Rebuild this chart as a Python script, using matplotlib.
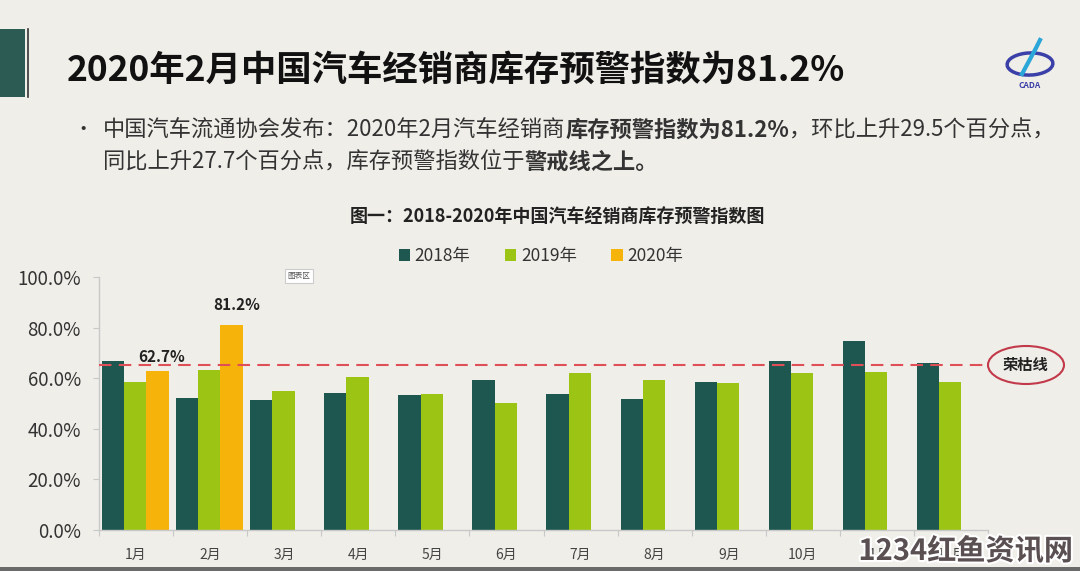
import matplotlib
matplotlib.use("Agg")
import matplotlib.pyplot as plt
from matplotlib.patches import Rectangle, Ellipse, Patch
from matplotlib.lines import Line2D
import matplotlib.patheffects as pe
import numpy as np

plt.rcParams['font.family'] = ['Noto Sans CJK SC', 'DejaVu Sans']

# ---------------- data ----------------
months = ["1月", "2月", "3月", "4月", "5月", "6月", "7月", "8月", "9月", "10月", "11月", "12月"]
v2018 = [66.8, 52.0, 51.5, 54.3, 53.5, 59.2, 53.6, 51.9, 58.6, 66.7, 74.7, 65.9]
v2019 = [58.6, 63.2, 54.9, 60.6, 53.9, 50.2, 62.2, 59.2, 58.2, 62.2, 62.5, 58.6]
v2020 = [62.7, 81.2]
series_names = ["2018年", "2019年", "2020年"]
threshold = 65.2
yticks = [0, 20, 40, 60, 80, 100]

title = "2020年2月中国汽车经销商库存预警指数为81.2%"
line1 = [("中国汽车流通协会发布：2020年2月汽车经销商", "normal"),
         ("库存预警指数为81.2%", "bold"),
         ("，环比上升29.5个百分点，", "normal")]
line2 = [("同比上升27.7个百分点，库存预警指数位于", "normal"),
         ("警戒线之上。", "bold")]
chart_title = "图一：2018-2020年中国汽车经销商库存预警指数图"
line_label = "荣枯线"

# ---------------- style ----------------
W, H = 1080, 571
BG = "#efeee9"
C18, C19, C20 = "#1d5750", "#9cc414", "#f6b30a"

fig = plt.figure(figsize=(W / 100, H / 100), dpi=100, facecolor=BG)


def fx(x):
    return x / W


def fy(y):
    return 1 - y / H


# header decorations
fig.patches.append(Rectangle((0, fy(97)), fx(25), (97 - 29) / H, transform=fig.transFigure,
                             facecolor="#2c5b53", edgecolor="none"))
fig.lines.append(Line2D([fx(28), fx(28)], [fy(29), fy(97)], transform=fig.transFigure,
                        color="#333333", lw=1.2))
fig.text(fx(67), fy(70), title, fontsize=25.5, fontweight="bold", color="#111111",
         va="center", ha="left")

# logo (simple approximation)
fig.patches.append(Ellipse((fx(1030), fy(64)), fx(46), 22 / H, angle=15, transform=fig.transFigure,
                           facecolor="none", edgecolor="#3b3fa8", lw=2.5))
fig.lines.append(Line2D([fx(1022), fx(1036), fx(1040)], [fy(74), fy(48), fy(40)],
                        transform=fig.transFigure, color="#2aa6d9", lw=3))
fig.text(fx(1030), fy(86), "CADA", fontsize=6, fontstyle="italic", fontweight="bold",
         color="#3b3fa8", ha="center", va="center")

# bullet text with mixed weights
fig.text(fx(73), fy(130), "•", fontsize=14, color="#333333", va="center", ha="left")
renderer = fig.canvas.get_renderer()


def draw_line(parts, x0, y0, size):
    x = x0
    for s, w in parts:
        t = fig.text(fx(x), fy(y0), s, fontsize=size, fontweight=w, color="#333333",
                     va="center", ha="left")
        bb = t.get_window_extent(renderer)
        x += bb.width


draw_line(line1, 103, 130, 16)
draw_line(line2, 103, 162, 16)

fig.text(fx(557), fy(217), chart_title, fontsize=13, fontweight="bold", color="#222222",
         ha="center", va="center")

# ---------------- axes ----------------
ax = fig.add_axes([fx(99), 41 / H, 889 / W, 253 / H])
ax.set_facecolor("none")
x = np.arange(len(months))
bw = 0.3
off = 0.04
ax.bar(x + off + bw * 0.5, v2018, width=bw, color=C18, align="center", zorder=2)
ax.bar(x + off + bw * 1.5, v2019, width=bw, color=C19, align="center", zorder=2)
x20 = x[:len(v2020)]
bars20 = ax.bar(x20 + off + bw * 2.5, v2020, width=bw, color=C20, align="center", zorder=2)

ax.set_xlim(0, len(months))
ax.set_ylim(0, 100)

ax.set_yticks(yticks)
ax.set_yticklabels([f"{v:.1f}%" for v in yticks])
ax.tick_params(axis="y", length=4, width=0.8, color="#c8c8c8", pad=9, labelsize=13.5,
               labelcolor="#333333")

ax.set_xticks(np.arange(len(months) + 1))
ax.set_xticklabels([])
ax.tick_params(axis="x", which="major", length=4, width=0.8, color="#c8c8c8")
ax.set_xticks(x + 0.5, minor=True)
ax.set_xticklabels(months, minor=True)
ax.tick_params(axis="x", which="minor", length=0, pad=13, labelsize=10, labelcolor="#444444")

for s in ["top", "right"]:
    ax.spines[s].set_visible(False)
for s in ["left", "bottom"]:
    ax.spines[s].set_color("#c8c8c8")
    ax.spines[s].set_linewidth(1)

ln = ax.axhline(threshold, color="#df4f58", lw=1.5, zorder=3)
ln.set_dashes((6, 3.5))

# data labels on 2020 bars
offsets = [(3, 10), (4, 14)]
for b, v, (dx, dy) in zip(bars20, v2020, offsets):
    ax.annotate(f"{v:.1f}%", (b.get_x() + b.get_width() / 2, v), xytext=(dx, dy),
                textcoords="offset points", ha="center", va="center", fontsize=11,
                fontweight="bold", color="#222222", zorder=4)

# legend
handles = [Patch(facecolor=c, edgecolor="none") for c in (C18, C19, C20)]
fig.legend(handles, series_names, loc="center", bbox_to_anchor=(fx(541), fy(256)), ncol=3,
           frameon=False, fontsize=12.5, handlelength=0.65, handleheight=0.65,
           handletextpad=0.25, columnspacing=2.0, labelcolor="#333333")

# tooltip artifact
fig.text(fx(299), fy(276), "图表区", fontsize=5.5, color="#555555", ha="center", va="center",
         bbox=dict(boxstyle="square,pad=0.4", facecolor="white", edgecolor="#cccccc", lw=0.8))

# threshold label in ellipse
fig.patches.append(Ellipse((fx(1026), fy(365)), fx(76), 38 / H, transform=fig.transFigure,
                           facecolor="none", edgecolor="#c23a4a", lw=1.5))
fig.text(fx(1025), fy(365), line_label, fontsize=11, fontweight="bold", color="#222222",
         ha="center", va="center")

# watermark (overlaps the last tick labels, as in the reference)
fig.text(fx(1073), fy(551), "1234红鱼资讯网", fontsize=21, fontweight="bold", color="#5b5051",
         ha="right", va="center",
         path_effects=[pe.withStroke(linewidth=3, foreground="white")])

# bottom band
fig.patches.append(Rectangle((0, 0), 1, 4 / H, transform=fig.transFigure,
                             facecolor="#6a6a6a", edgecolor="none"))

fig.savefig("out.png", dpi=100, facecolor=BG)
